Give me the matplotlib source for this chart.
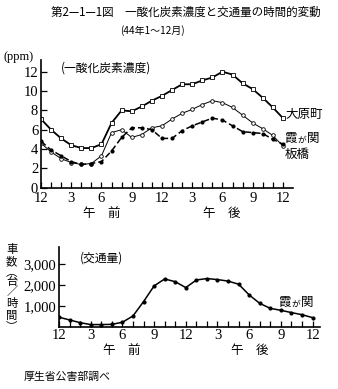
import matplotlib
matplotlib.use("Agg")
import matplotlib.pyplot as plt
import numpy as np

# hours from midnight (0) to midnight (24)
hours = list(range(25))

# CO concentration (ppm)
co_ohara = [7.1, 6.0, 5.1, 4.4, 4.1, 4.1, 4.5, 6.7, 8.0, 7.9, 8.4, 9.0, 9.5,
            10.1, 10.7, 10.7, 11.1, 11.4, 12.0, 11.7, 10.8, 10.2, 9.3, 8.3, 7.2]
co_kasumi = [4.6, 3.7, 3.0, 2.6, 2.4, 2.5, 3.3, 5.7, 6.0, 5.2, 5.5, 6.2, 6.4,
             7.1, 7.7, 8.1, 8.6, 9.0, 8.8, 8.3, 7.5, 6.7, 6.1, 5.4, 4.3]
co_itabashi = [4.8, 3.9, 3.3, 2.7, 2.4, 2.5, 2.7, 3.8, 5.2, 6.2, 6.2, 6.0, 5.1,
               5.1, 5.9, 6.4, 6.8, 7.2, 7.0, 6.4, 5.8, 5.7, 5.6, 5.0, 4.5]

# traffic volume at Kasumigaseki (vehicles / hour)
traffic = [480, 350, 220, 130, 130, 140, 240, 540, 1220, 1970, 2300, 2170, 1890,
           2250, 2320, 2270, 2200, 2050, 1540, 1140, 900, 810, 700, 600, 460]

hour_ticks = [0, 3, 6, 9, 12, 15, 18, 21, 24]
hour_labels = ["12", "3", "6", "9", "12", "3", "6", "9", "12"]
co_ticks = [0, 2, 4, 6, 8, 10, 12]
tr_ticks = [1000, 2000, 3000]
tr_labels = ["1,000", "2,000", "3,000"]

JP = ["Noto Sans CJK JP", "DejaVu Sans"]
NUM = ["Liberation Serif", "DejaVu Serif"]

fig = plt.figure(figsize=(3.38, 3.89), dpi=100)


def style_axes(ax, xpad):
    for s in ("top", "right"):
        ax.spines[s].set_visible(False)
    for s in ("left", "bottom"):
        ax.spines[s].set_linewidth(1.2)
    ax.set_xticks(hour_ticks)
    ax.set_xticklabels(hour_labels, family=NUM, fontsize=10.5)
    ax.set_xticks(hours, minor=True)
    ax.tick_params(axis="x", which="both", direction="in", length=4, width=0.9, pad=xpad)
    ax.tick_params(axis="y", direction="in", length=4, width=0.9, pad=2)


def split_label(ax, x, y, step, fs):
    # "霞が関" with a smaller が, as in the original print
    ax.text(x, y, "霞", family=JP, fontsize=fs, va="center")
    ax.text(x + step, y - 0.02 * (ax.get_ylim()[1]), "が", family=JP,
            fontsize=fs * 0.7, va="center")
    ax.text(x + step * 1.75, y, "関", family=JP, fontsize=fs, va="center")


# ---- top: CO concentration ----
ax1 = fig.add_axes([0.1213, 0.5175, 0.7456, 0.328])
ax1.plot(hours, co_ohara, "-", color="k", lw=1.3, marker="s", ms=2.4,
         mfc="white", mec="k", mew=0.6)
ax1.plot(hours, co_kasumi, "-", color="k", lw=0.7, marker="o", ms=2.6,
         mfc="white", mec="k", mew=0.6)
ax1.plot(hours, co_itabashi, color="k", lw=1.1, ls=(0, (4, 2)), marker="o",
         ms=2.0, mfc="k", mec="k")
ax1.set_xlim(0, 25)
ax1.set_ylim(0, 13.2)
style_axes(ax1, 3)
ax1.set_yticks(co_ticks)
ax1.set_yticklabels([str(v) for v in co_ticks], family=NUM, fontsize=10.5)
ax1.text(2.0, 12.35, "(一酸化炭素濃度)", family=JP, fontsize=8.5, va="center")
ax1.text(24.3, co_ohara[-1] + 0.35, "大原町", family=JP, fontsize=9, va="center")
split_label(ax1, 24.2, 5.1, 1.25, 9)
ax1.text(24.2, 3.4, "板橋", family=JP, fontsize=9, va="center")

# ---- bottom: traffic ----
ax2 = fig.add_axes([0.1746, 0.1586, 0.772, 0.2064])
ax2.plot(hours, traffic, "-", color="k", lw=1.1, marker="o", ms=2.0,
         mfc="k", mec="k")
ax2.set_xlim(0, 24.7)
ax2.set_ylim(0, 3820)
style_axes(ax2, 1)
ax2.set_yticks(tr_ticks)
ax2.set_yticklabels(tr_labels, family=NUM, fontsize=10.5)
ax2.text(2.0, 3300, "(交通量)", family=JP, fontsize=8.5, va="center")
split_label(ax2, 20.8, 1170, 1.2, 9)

# ---- figure texts ----
fig.text(0.55, 0.967, "第2—1—1図　一酸化炭素濃度と交通量の時間的変動",
         family=JP, fontsize=8.3, ha="center", va="center")
fig.text(0.45, 0.921, "(44年1～12月)", family=JP, fontsize=7.2, ha="center",
         va="center")
fig.text(0.01, 0.853, "(ppm)", family=NUM, fontsize=9, va="center")
fig.text(0.30, 0.450, "午　前", family=JP, fontsize=9, ha="center", va="center")
fig.text(0.655, 0.450, "午　後", family=JP, fontsize=9, ha="center", va="center")
fig.text(0.36, 0.100, "午　前", family=JP, fontsize=9, ha="center", va="center")
fig.text(0.74, 0.100, "午　後", family=JP, fontsize=9, ha="center", va="center")
fig.text(0.07, 0.030, "厚生省公害部調べ", family=JP, fontsize=7.8, va="center")

# vertical axis label for traffic: characters and their pixel rows
vchars = ["車", "数", "︵", "台", "／", "時", "間", "︶"]
vrows = [250, 262, 272, 282, 292, 304, 316, 326]
for ch, row in zip(vchars, vrows):
    fig.text(0.035, 1 - row / 389, ch, family=JP, fontsize=8.2,
             ha="center", va="center")

fig.savefig("out.png", dpi=100)
